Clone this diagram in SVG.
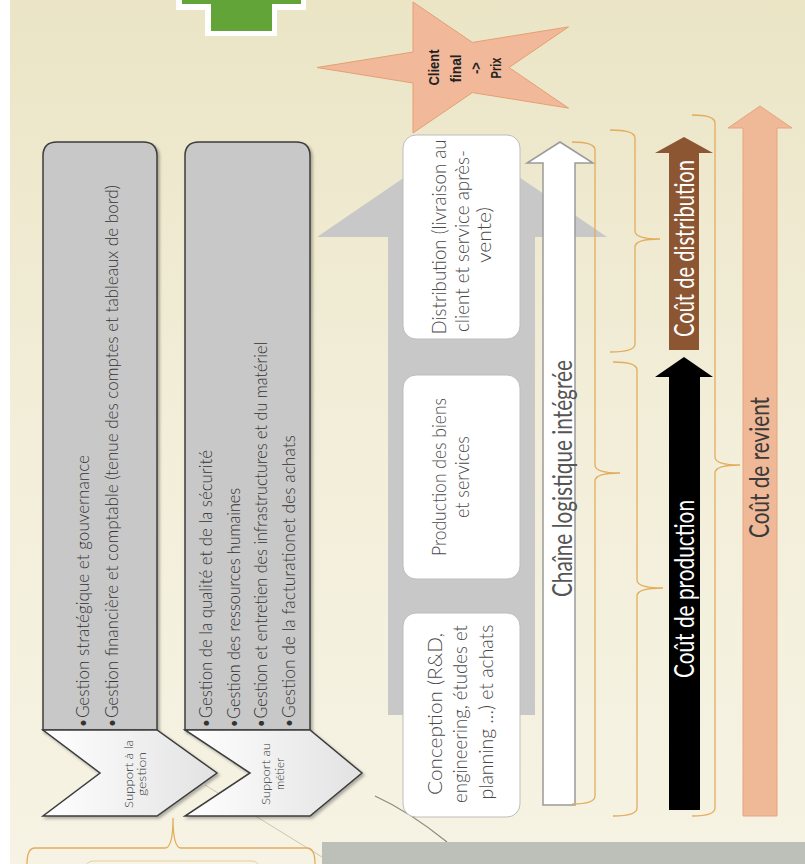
<svg xmlns="http://www.w3.org/2000/svg" width="805" height="864" viewBox="0 0 805 864">
<defs>
  <linearGradient id="bg" x1="0" y1="0" x2="0" y2="1">
    <stop offset="0" stop-color="#ebe5c6"/>
    <stop offset="0.5" stop-color="#f2eed9"/>
    <stop offset="1" stop-color="#f6f3e4"/>
  </linearGradient>
  <linearGradient id="chev" x1="0" y1="0" x2="1" y2="0">
    <stop offset="0" stop-color="#ffffff"/>
    <stop offset="1" stop-color="#e2e2e2"/>
  </linearGradient>
  <filter id="sh" x="-10%" y="-10%" width="130%" height="130%">
    <feDropShadow dx="2" dy="2" stdDeviation="1.5" flood-color="#000" flood-opacity="0.3"/>
  </filter>
</defs>
<style>
  .gbox{fill:#c8c8c8;stroke:#3c3c3c;stroke-width:1.5}
  .chev{fill:url(#chev);stroke:#3c3c3c;stroke-width:1.5}
  .wbox{fill:#ffffff;stroke:#bdbdbd;stroke-width:1}
  .brace{fill:none;stroke:#e2ad5c;stroke-width:1.3}
  .t{font-family:Lato,'Liberation Sans',sans-serif;font-weight:300}
  .list{font-size:18.5px;fill:#333333}
  .box{font-size:20px;fill:#4a4a4a}
  .chv{font-size:12px;fill:#333333}
  .big{font-size:26px;font-weight:400}
  .star{font-family:'Liberation Sans',Arial,sans-serif;font-weight:bold;font-size:15px;fill:#222222}
</style>

<!-- background -->
<rect x="0" y="0" width="805" height="864" fill="url(#bg)"/>
<rect x="0" y="0" width="10" height="864" fill="#ffffff"/>

<!-- green cross (partial) -->
<g id="green-cross">
  <polygon points="176,-5 306,-5 306,10 277,10 277,36 205,36 205,10 176,10" fill="#ffffff"/>
  <polygon points="182,-5 301,-5 301,4 272,4 272,31 211,31 211,4 182,4" fill="#62a437"/>
</g>

<!-- big gray process arrow -->
<g id="process-arrow">
  <polygon points="462,138 607,237 535,237 535,715 388,715 388,237 317,237" fill="#c8c8c8"/>
</g>

<!-- star -->
<g id="star-client">
  <polygon points="317,67.5 413,52 413,2 472.4,42.4 568.5,26.9 509,67.5 568.5,108.1 472.4,92.6 413,133 413,83" fill="#f1b99a" stroke="#e49f72" stroke-width="1"/>
  <text class="star" text-anchor="middle" transform="translate(439,67.5) rotate(-90)" textLength="36" lengthAdjust="spacingAndGlyphs">Client</text>
  <text class="star" text-anchor="middle" transform="translate(461,68.5) rotate(-90)" textLength="28" lengthAdjust="spacingAndGlyphs">final</text>
  <text class="star" text-anchor="middle" transform="translate(481,68) rotate(-90)" textLength="12" lengthAdjust="spacingAndGlyphs">-&gt;</text>
  <text class="star" text-anchor="middle" transform="translate(501,68) rotate(-90)" textLength="21" lengthAdjust="spacingAndGlyphs">Prix</text>
</g>

<!-- callout lines -->
<g id="connectors">
  <path d="M205,785 L322,857" fill="none" stroke="#c9c6b2" stroke-width="1"/>
  <path d="M375,796 Q410,812 447,842" fill="none" stroke="#8c8a7c" stroke-width="1.2"/>
</g>

<!-- support à la gestion -->
<g id="support-gestion">
  <path class="gbox" filter="url(#sh)" d="M43,730 V156 Q43,142 57,142 H143 Q157,142 157,156 V730 Z"/>
  <text class="t list" transform="translate(89,728) rotate(-90)" textLength="273" lengthAdjust="spacingAndGlyphs">•Gestion stratégique et gouvernance</text>
  <text class="t list" transform="translate(118,728) rotate(-90)" textLength="543" lengthAdjust="spacingAndGlyphs">•Gestion financière et comptable (tenue des comptes et tableaux de bord)</text>
  <path class="chev" filter="url(#sh)" d="M43,730 H157 L217,773 L157,816 H43 L100,773 Z"/>
  <text class="t chv" text-anchor="middle" transform="translate(133,774) rotate(-90)" textLength="68" lengthAdjust="spacingAndGlyphs">Support à la</text>
  <text class="t chv" text-anchor="middle" transform="translate(146,774) rotate(-90)" textLength="44" lengthAdjust="spacingAndGlyphs">gestion</text>
</g>

<!-- support au métier -->
<g id="support-metier">
  <path class="gbox" filter="url(#sh)" d="M185,730 V156 Q185,142 199,142 H296 Q310,142 310,156 V730 Z"/>
  <text class="t list" transform="translate(212,728) rotate(-90)" textLength="278" lengthAdjust="spacingAndGlyphs">•Gestion de la qualité et de la sécurité</text>
  <text class="t list" transform="translate(240,728) rotate(-90)" textLength="240" lengthAdjust="spacingAndGlyphs">•Gestion des ressources humaines</text>
  <text class="t list" transform="translate(267,728) rotate(-90)" textLength="386" lengthAdjust="spacingAndGlyphs">•Gestion et entretien des infrastructures et du matériel</text>
  <text class="t list" transform="translate(295,728) rotate(-90)" textLength="293" lengthAdjust="spacingAndGlyphs">•Gestion de la facturationet des achats</text>
  <path class="chev" filter="url(#sh)" d="M185,730 H310 L362,773 L310,816 H185 L250,773 Z"/>
  <text class="t chv" text-anchor="middle" transform="translate(270,774) rotate(-90)" textLength="62" lengthAdjust="spacingAndGlyphs">Support au</text>
  <text class="t chv" text-anchor="middle" transform="translate(284,774) rotate(-90)" textLength="32" lengthAdjust="spacingAndGlyphs">métier</text>
</g>

<!-- white process boxes -->
<g id="distribution">
  <rect class="wbox" x="403" y="135" width="117" height="204" rx="13"/>
  <text class="t box" text-anchor="middle" transform="translate(446,237) rotate(-90)" textLength="195" lengthAdjust="spacingAndGlyphs">Distribution  (livraison au</text>
  <text class="t box" text-anchor="middle" transform="translate(469,241) rotate(-90)" textLength="182" lengthAdjust="spacingAndGlyphs">client et service après-</text>
  <text class="t box" text-anchor="middle" transform="translate(491,235) rotate(-90)" textLength="56" lengthAdjust="spacingAndGlyphs">vente)</text>
</g>
<g id="production">
  <rect class="wbox" x="403" y="375" width="117" height="204" rx="13"/>
  <text class="t box" text-anchor="middle" transform="translate(446,477) rotate(-90)" textLength="158" lengthAdjust="spacingAndGlyphs">Production des biens</text>
  <text class="t box" text-anchor="middle" transform="translate(469,477) rotate(-90)" textLength="82" lengthAdjust="spacingAndGlyphs">et services</text>
</g>
<g id="conception">
  <rect class="wbox" x="403" y="613" width="117" height="204" rx="13"/>
  <text class="t box" text-anchor="middle" transform="translate(442,714) rotate(-90)" textLength="162" lengthAdjust="spacingAndGlyphs">Conception  (R&amp;D,</text>
  <text class="t box" text-anchor="middle" transform="translate(467,714) rotate(-90)" textLength="178" lengthAdjust="spacingAndGlyphs">engineering,  études et</text>
  <text class="t box" text-anchor="middle" transform="translate(493,712) rotate(-90)" textLength="175" lengthAdjust="spacingAndGlyphs">planning ...) et achats</text>
</g>

<!-- chaîne logistique -->
<g id="chaine-logistique">
  <polygon points="560,142 593,163 575,163 575,805 543,805 543,163 527,163" fill="#ffffff" stroke="#9a9a9a" stroke-width="1.5"/>
  <text class="t big" fill="#555555" text-anchor="middle" transform="translate(572,478.5) rotate(-90)" textLength="237" lengthAdjust="spacingAndGlyphs">Chaîne logistique intégrée</text>
</g>

<!-- braces -->
<g id="braces">
  <path class="brace" d="M572,142 Q595,142 595,150 V465 Q595,473 620,473 Q595,473 595,481 V796 Q595,804 572,804"/>
  <path class="brace" d="M610,130 Q635,130 635,138 V231 Q635,239 660,239 Q635,239 635,247 V344 Q635,352 610,352"/>
  <path class="brace" d="M613,362 Q637,362 637,370 V580 Q637,588 663,588 Q637,588 637,596 V808 Q637,816 613,816"/>
  <path class="brace" d="M692,115 Q715,115 715,123 V457 Q715,465 740,465 Q715,465 715,473 V808 Q715,816 692,816"/>
  <path class="brace" d="M27,864 Q27,848 35,848 H165 Q173,848 173,818 Q173,848 181,848 H307 Q315,848 315,864"/>
</g>

<!-- cost arrows -->
<g id="cout-distribution">
  <polygon points="684,137 713,153 699,153 699,350 669,350 669,153 655,153" fill="#8c5632"/>
  <text class="t big" fill="#ffffff" text-anchor="middle" transform="translate(694,248.5) rotate(-90)" textLength="177" lengthAdjust="spacingAndGlyphs">Coût de distribution</text>
</g>
<g id="cout-production">
  <polygon points="684,357 713,377 700,377 700,810 669,810 669,377 655,377" fill="#000000"/>
  <text class="t big" fill="#ffffff" text-anchor="middle" transform="translate(694,589) rotate(-90)" textLength="178" lengthAdjust="spacingAndGlyphs">Coût de production</text>
</g>
<g id="cout-revient">
  <polygon points="760,106 792,128 777,128 777,816 743,816 743,128 728,128" fill="#efb896" stroke="#e6a47c" stroke-width="1"/>
  <text class="t big" fill="#3a3a3a" text-anchor="middle" transform="translate(769,467.5) rotate(-90)" textLength="141" lengthAdjust="spacingAndGlyphs">Coût de revient</text>
</g>

<!-- bottom partial elements -->
<g id="bottom-left-box">
  <rect x="85" y="861" width="175" height="30" rx="8" fill="#f8f5e8" stroke="#e6cf9c" stroke-width="1"/>
</g>
<g id="bottom-right-box">
  <rect x="322" y="842" width="490" height="30" fill="#bcc0b8"/>
</g>
</svg>
